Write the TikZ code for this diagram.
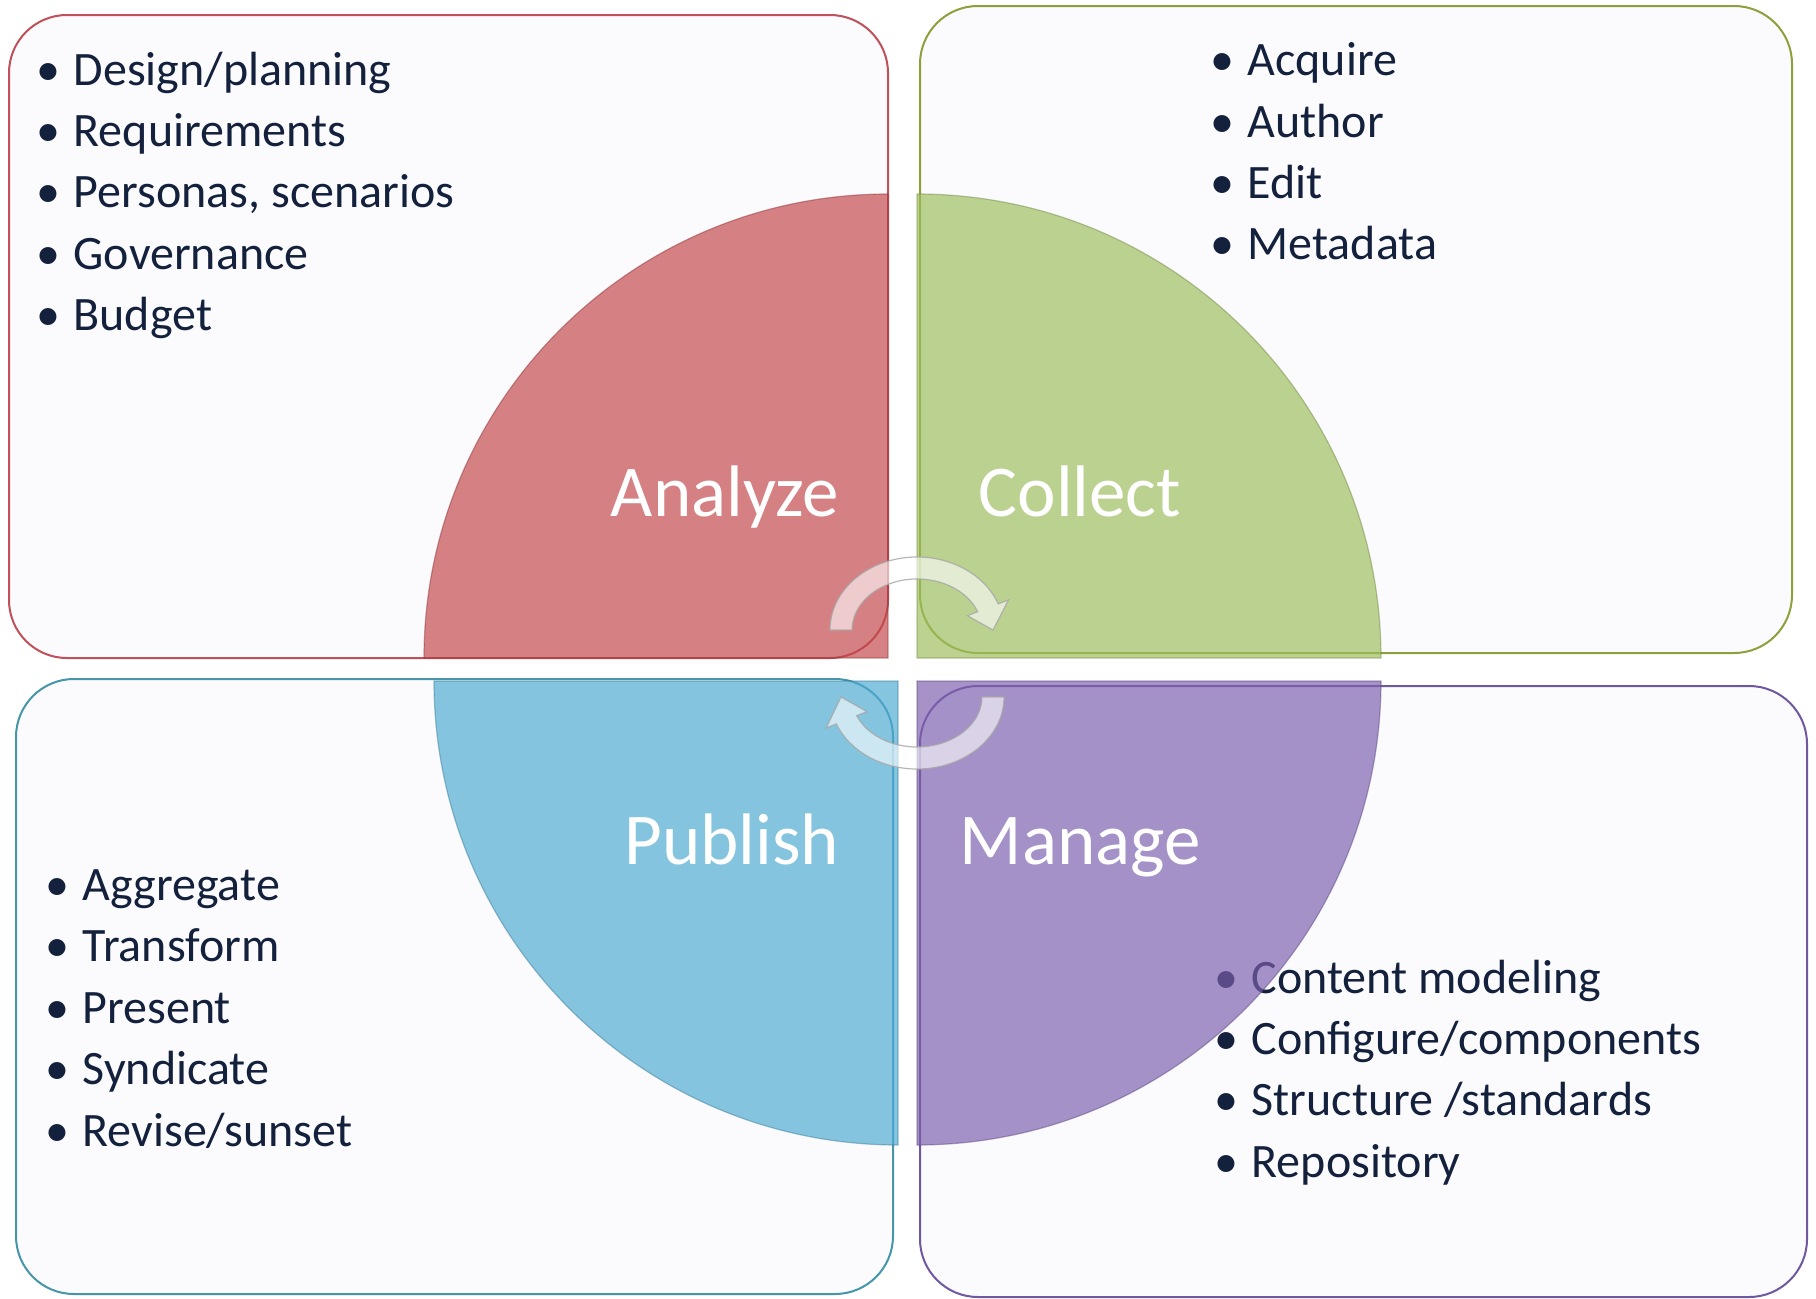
\documentclass[tikz,border=0pt]{standalone}
\usepackage{fontspec}
\setmainfont{Carlito}
\definecolor{txt}{RGB}{20,33,61}
\definecolor{boxbg}{RGB}{251,251,254}
\definecolor{qred}{RGB}{195,70,73}
\definecolor{qgreen}{RGB}{158,190,92}
\definecolor{qblue}{RGB}{76,170,209}
\definecolor{qpurple}{RGB}{124,95,173}
\definecolor{bred}{RGB}{192,80,90}
\definecolor{bgreen}{RGB}{140,160,60}
\definecolor{bblue}{RGB}{70,150,170}
\definecolor{bpurple}{RGB}{112,88,160}
\newcommand{\bitem}[1]{\makebox[51pt][c]{•}#1}
\tikzset{
  box/.style={rounded corners=58pt, line width=2pt, fill=boxbg},
  quad/.style={fill opacity=0.68, draw opacity=0.45, line width=1.2pt},
  lbl/.style={text=white, font=\fontsize{73}{82}\selectfont, anchor=base, inner sep=0pt},
  item/.style={text=txt, font=\fontsize{48}{57}\selectfont, anchor=base west, inner sep=0pt},
  carrow/.style={fill=white, fill opacity=0.6, draw=gray!70, draw opacity=0.8, line width=1.2pt}
}
\begin{document}
\begin{tikzpicture}[x=1pt,y=1pt]
\useasboundingbox (0,0) rectangle (1816,-1299);
\fill[white] (0,0) rectangle (1816,-1299);

% boxes
\draw[box, draw=bred]    (9,-15)   rectangle (888,-658);
\draw[box, draw=bgreen]  (920,-6)  rectangle (1792,-653);
\draw[box, draw=bblue]   (16,-679) rectangle (893,-1294);
\draw[box, draw=bpurple] (920,-686) rectangle (1807,-1297);

% lists
\node[item] (a1) at (22.5,-85)    {\bitem{Design/planning}};
\node[item] (a2) at (22.5,-146.4) {\bitem{Requirements}};
\node[item] (a3) at (22.5,-207.8) {\bitem{Personas, scenarios}};
\node[item] (a4) at (22.5,-269.2) {\bitem{Governance}};
\node[item] (a5) at (22.5,-330.6) {\bitem{Budget}};

\node[item] (c1) at (1196.5,-75.7)  {\bitem{Acquire}};
\node[item] (c2) at (1196.5,-137.1) {\bitem{Author}};
\node[item] (c3) at (1196.5,-198.5) {\bitem{Edit}};
\node[item] (c4) at (1196.5,-259.9) {\bitem{Metadata}};

\node[item] (p1) at (31.5,-900.4)  {\bitem{Aggregate}};
\node[item] (p2) at (31.5,-961.8)  {\bitem{Transform}};
\node[item] (p3) at (31.5,-1023.2) {\bitem{Present}};
\node[item] (p4) at (31.5,-1084.6) {\bitem{Syndicate}};
\node[item] (p5) at (31.5,-1146.0) {\bitem{Revise/sunset}};

\node[item] (m1) at (1200.5,-993)    {\bitem{Content modeling}};
\node[item] (m2) at (1200.5,-1054.4) {\bitem{Configure/components}};
\node[item] (m3) at (1200.5,-1115.8) {\bitem{Structure /standards}};
\node[item] (m4) at (1200.5,-1177.2) {\bitem{Repository}};

% quadrants
\filldraw[quad, fill=qred, draw=qred!70!black]
  (888,-658) -- (424,-658) arc[start angle=180, end angle=90, radius=464] -- cycle;
\filldraw[quad, fill=qgreen, draw=qgreen!70!black]
  (917,-658) -- (917,-194) arc[start angle=90, end angle=0, radius=464] -- cycle;
\filldraw[quad, fill=qblue, draw=qblue!70!black]
  (898,-681) -- (434,-681) arc[start angle=180, end angle=270, radius=464] -- cycle;
\filldraw[quad, fill=qpurple, draw=qpurple!70!black]
  (917,-681) -- (1381,-681) arc[start angle=0, end angle=-90, radius=464] -- cycle;

% labels
\node[lbl] (analyze) at (725,-516)  {Analyze};
\node[lbl] (collect) at (1080,-516) {Collect};
\node[lbl] (publish) at (732,-864)  {Publish};
\node[lbl] (manage)  at (1080,-864) {Manage};

% circular arrows
\filldraw[carrow] (830,-630) arc[start angle=180, end angle=21, x radius=87, y radius=73]
  -- (1008.5,-599.9) -- (993,-630) -- (967.4,-615.7) -- (977.7,-611.7)
  arc[start angle=21, end angle=180, x radius=65, y radius=51] -- cycle;
\filldraw[carrow] (1004,-697) arc[start angle=0, end angle=-158, x radius=87, y radius=72]
  -- (826.1,-728.1) -- (841,-697) -- (866.9,-711.6) -- (856.7,-715.7)
  arc[start angle=-158, end angle=0, x radius=65, y radius=50] -- cycle;
\end{tikzpicture}
\end{document}
